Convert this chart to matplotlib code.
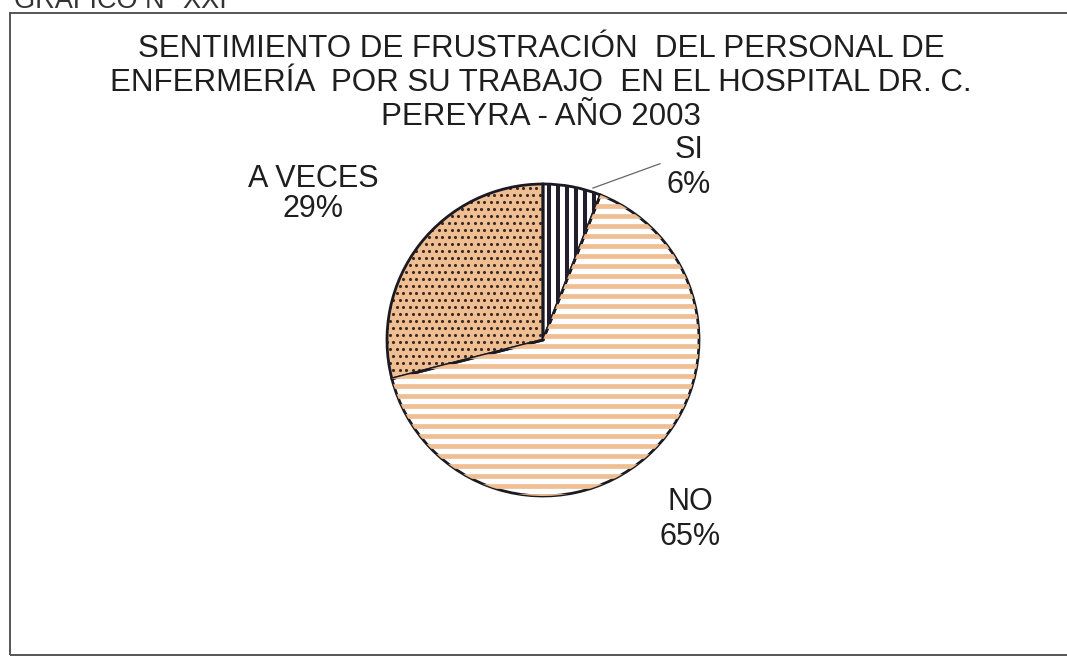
import numpy as np
import matplotlib
matplotlib.use("Agg")
import matplotlib.pyplot as plt
from matplotlib.patches import Rectangle

plt.rcParams['font.family'] = ['Liberation Sans', 'DejaVu Sans']

# datos del grafico
categorias = ['SI', 'NO', 'A VECES']
porcentajes = [6, 65, 29]
titulo = ('SENTIMIENTO DE FRUSTRACIÓN  DEL PERSONAL DE\n'
          'ENFERMERÍA  POR SU TRABAJO  EN EL HOSPITAL DR. C.\n'
          'PEREYRA - AÑO 2003')

durazno = '#EFBE92'
tinta = '#231d2b'

fig = plt.figure(figsize=(10.67, 6.59), dpi=100)
W, H = 1067, 659

# marco del grafico
fig.patches.append(Rectangle((10 / W, 1 - 655 / H), 1.0, (655 - 13) / H,
                             transform=fig.transFigure, fill=False,
                             edgecolor='#555555', linewidth=1.4))
fig.text(14 / W, 1 - 8 / H, 'GRÁFICO N° XXI', fontsize=19.5, color='#333333',
         va='baseline', ha='left')

fig.text(541 / W, 1 - 83 / H, titulo, fontsize=22.5, ha='center', va='center',
         color='#1e1e1e', linespacing=1.18)

# ejes de la torta (cuadrados en pixeles)
cx, cy, r = 543, 340, 156
ax = fig.add_axes([(cx - r) / W, (H - cy - r) / H, 2 * r / W, 2 * r / H])
ax.axis('off')

wedges, _ = ax.pie(porcentajes, startangle=90, counterclock=False,
                   colors=['white', 'white', durazno],
                   wedgeprops=dict(linewidth=0))

paso = 1.0 / r  # un pixel en unidades de datos

# SI: rayas verticales negras
for x in np.arange(-1, 1, 9 * paso):
    ln, = ax.plot([x, x], [-1, 1], color=tinta, linewidth=2.9, solid_capstyle='butt')
    ln.set_clip_path(wedges[0])

# NO: rayas horizontales color durazno
for y in np.arange(-1, 1, 10 * paso):
    ln, = ax.plot([-1, 1], [y, y], color=durazno, linewidth=3.4, solid_capstyle='butt')
    ln.set_clip_path(wedges[1])

# A VECES: puntos
gx, gy = np.meshgrid(np.arange(-1, 1, 6.5 * paso), np.arange(-1, 1, 7 * paso))
gx = gx + (np.arange(gx.shape[0])[:, None] % 2) * 3.25 * paso
pts = ax.scatter(gx.ravel(), gy.ravel(), s=5, color='#3b2a22', linewidths=0)
pts.set_clip_path(wedges[2])

# bordes encima de las texturas
ax.pie(porcentajes, startangle=90, counterclock=False,
       wedgeprops=dict(fill=False, edgecolor='#1b1a22', linewidth=2.0))
ax.set_xlim(-1, 1)
ax.set_ylim(-1, 1)

# etiquetas
etiq = [f'{c}\n{p}%' for c, p in zip(categorias, porcentajes)]
ax.text(0.936, 1.105, etiq[0], ha='center', va='center', fontsize=22,
        color='#1e1e1e', linespacing=1.2)
ax.text(0.942, -1.15, etiq[1], ha='center', va='center', fontsize=22,
        color='#1e1e1e', linespacing=1.2)
ax.text(-1.474, 0.936, etiq[2], ha='center', va='center', fontsize=22,
        color='#1e1e1e', linespacing=1.02)
ax.plot([0.32, 0.75], [0.974, 1.13], color='#666666', linewidth=0.9, clip_on=False)

fig.savefig('out.png', dpi=100)
